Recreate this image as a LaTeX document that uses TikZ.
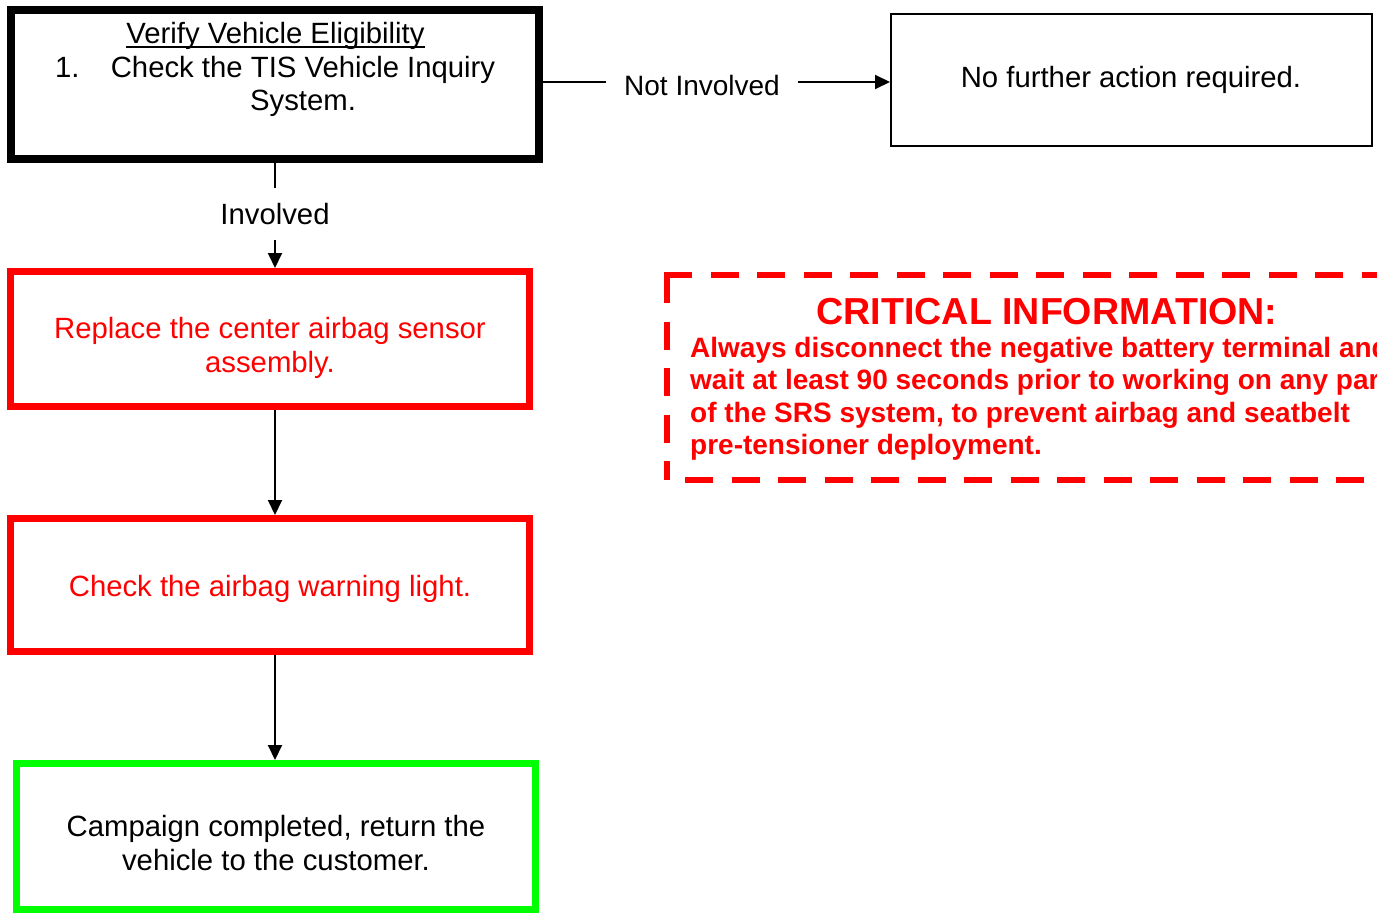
\documentclass[tikz,border=0pt]{standalone}
\usepackage{fontspec}
\setmainfont{Liberation Sans}
\usetikzlibrary{arrows.meta}
\definecolor{rd}{RGB}{255,0,0}
\definecolor{gr}{RGB}{0,255,0}
\newcommand\natsp{\spaceskip=\fontdimen2\font\relax\xspaceskip=\fontdimen2\font\relax}
\begin{document}
\begin{tikzpicture}[x=1pt,y=-1pt,
  every node/.style={inner sep=0pt},
  txt/.style={font=\fontsize{29.3}{33.5}\selectfont},
  crit/.style={font=\bfseries\fontsize{28}{32.5}\selectfont, text=rd},
  frame/.style={draw, rectangle, inner sep=0pt},
  conn/.style={line width=2pt, -{Triangle[length=15pt,width=14pt]}},
  plain/.style={line width=2pt},
  critline/.style={draw=rd, line width=6pt, dash pattern=on 28pt off 18.5pt},
]
\useasboundingbox (0,0) rectangle (1377,915);

% boxes
\node[frame, line width=8pt, minimum width=528, minimum height=149] (b1) at (275,84.5) {};
\node[frame, draw=rd, line width=7pt, minimum width=519, minimum height=135] (b2) at (270,339) {};
\node[frame, draw=rd, line width=7pt, minimum width=519, minimum height=133] (b3) at (270,585) {};
\node[frame, draw=gr, line width=7pt, minimum width=519, minimum height=146] (b4) at (276,836.5) {};
\node[frame, line width=2pt, minimum width=481, minimum height=132] (rb) at (1131.5,80) {};

% texts
\node[txt, anchor=base] (t1) at (275.5,43.5) {Verify Vehicle Eligibility};
\draw[line width=2pt] ([yshift=-4pt]t1.base west) -- ([yshift=-4pt]t1.base east);
\node[txt, anchor=base west] (n1) at (55,77.5) {1.};
\node[txt, anchor=base, text width=420, align=center] (t1b) at (303,77.5) {\natsp Check the TIS Vehicle Inquiry\\System.};
\node[txt, text=rd, anchor=base, text width=500, align=center] (t2) at (270,338.5) {\natsp Replace the center airbag sensor\\assembly.};
\node[txt, text=rd, anchor=base] (t3) at (270,596.5) {Check the airbag warning light.};
\node[txt, anchor=base, text width=500, align=center] (t4) at (276,836.5) {\natsp Campaign completed, return the\\vehicle to the customer.};
\node[txt, anchor=base] (t5) at (1131,87.5) {No further action required.};

% connector labels
\node[txt, anchor=base, inner ysep=15pt] (inv) at (275,224.5) {Involved};
\node[txt, font=\fontsize{28}{33.5}\selectfont, anchor=base, inner xsep=18pt] (ni) at (702,95.5) {Not Involved};
\coordinate (nl) at (700,82);

% connectors
\draw[plain] (b1.east |- nl) -- (ni.west |- nl);
\draw[conn] (ni.east |- nl) -- (rb.west |- nl);
\draw[plain] (b1.south) -- (inv.north);
\draw[conn] (inv.south) -- (b2.north -| inv.south);
\draw[conn] (b2.south -| b1.south) -- (b3.north -| b1.south);
\draw[conn] (b3.south -| b1.south) -- (b4.north -| b1.south);

% critical information box
\coordinate (ctl) at (667,275);
\coordinate (cbl) at (667,480);
\draw[critline] (ctl) -- (cbl);
\draw[critline] (664,275) -- (1420,275);
\draw[critline] (685,480) -- (1420,480);
\node[crit, font=\bfseries\fontsize{37.6}{40}\selectfont, anchor=base] (ct) at (1047,324) {CRITICAL INFORMATION:};
\node[crit, anchor=base west, text width=800, align=left] (cb) at (690,357) {\natsp Always disconnect the negative battery terminal and\\wait at least 90 seconds prior to working on any part\\of the SRS system, to prevent airbag and seatbelt\\pre-tensioner deployment.};
\end{tikzpicture}
\end{document}
